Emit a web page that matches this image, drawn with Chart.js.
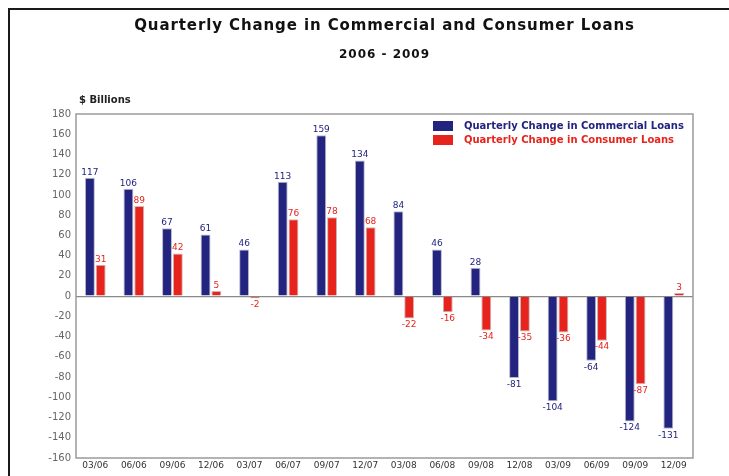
<!DOCTYPE html>
<html>
<head>
<meta charset="utf-8">
<script src="https://cdn.jsdelivr.net/npm/chart.js@4"></script>
<style>
  html, body { margin: 0; padding: 0; background: #fff; }
  #wrap { position: relative; width: 729px; height: 476px; overflow: hidden; }
  #frame {
    position: absolute; left: 8px; top: 8px; width: 760px; height: 500px;
    border-left: 2px solid #1a1a1a; border-top: 2px solid #1a1a1a;
    pointer-events: none;
  }
  canvas { position: absolute; left: 0; top: 0; }
</style>
</head>
<body>
<div id="wrap">
  <canvas id="grafica" width="729" height="476"></canvas>
  <div id="frame"></div>
</div>
<script>
const trimestres = [
  "03/06", "06/06", "09/06", "12/06", "03/07", "06/07", "09/07", "12/07",
  "03/08", "06/08", "09/08", "12/08", "03/09", "06/09", "09/09", "12/09"
];

const comerciales = [117, 106, 67, 61, 46, 113, 159, 134, 84, 46, 28, -81, -104, -64, -124, -131];
const consumo = [31, 89, 42, 5, -2, 76, 78, 68, -22, -16, -34, -35, -36, -44, -87, 3];

const nombres = [
  "Quarterly Change in Commercial Loans",
  "Quarterly Change in Consumer Loans"
];

const titulo = "Quarterly Change in Commercial and Consumer Loans";
const subtitulo = "2006 - 2009";
const unidades = "$ Billions";

const azul = "#23247f";
const rojo = "#e6241d";
const fuente = "'DejaVu Sans', sans-serif";

// value over (or under) each bar, in the bar's colour
const etiquetas = {
  id: "etiquetas",
  afterDatasetsDraw(chart) {
    const ctx = chart.ctx;
    ctx.save();
    ctx.font = "9px " + fuente;
    ctx.textAlign = "center";
    chart.data.datasets.forEach((ds, i) => {
      chart.getDatasetMeta(i).data.forEach((bar, j) => {
        const v = ds.data[j];
        ctx.fillStyle = ds.backgroundColor;
        if (v >= 0) {
          ctx.textBaseline = "bottom";
          ctx.fillText(v, bar.x, bar.y - 1);
        } else {
          ctx.textBaseline = "top";
          ctx.fillText(v, bar.x, bar.y + 2);
        }
      });
    });
    ctx.restore();
  }
};

// titles, box round the plot, "$ Billions" and the legend inside the plot
const marco = {
  id: "marco",
  beforeDatasetsDraw(chart) {
    const { ctx, chartArea: a } = chart;
    ctx.save();
    ctx.strokeStyle = "#9a9a9a";
    ctx.lineWidth = 1.5;
    ctx.strokeRect(a.left, a.top, a.right - a.left, a.bottom - a.top);
    ctx.restore();
  },
  afterDraw(chart) {
    const { ctx, chartArea: a } = chart;
    const centro = (a.left + a.right) / 2;
    ctx.save();
    ctx.fillStyle = "#111";
    ctx.textAlign = "center";
    ctx.textBaseline = "middle";
    ctx.letterSpacing = "0.9px";
    ctx.font = "bold 15px " + fuente;
    ctx.fillText(titulo, centro, 26);
    ctx.letterSpacing = "1px";
    ctx.font = "bold 12px " + fuente;
    ctx.fillText(subtitulo, centro, 55);
    ctx.letterSpacing = "0px";

    ctx.font = "bold 10px " + fuente;
    ctx.fillStyle = "#222";
    ctx.textAlign = "left";
    ctx.fillText(unidades, a.left + 3, a.top - 14);

    const x0 = a.right - 260;
    ctx.font = "bold 10px " + fuente;
    chart.data.datasets.forEach((ds, i) => {
      const y = a.top + 12 + i * 14;
      ctx.fillStyle = ds.backgroundColor;
      ctx.fillRect(x0, y - 5, 20, 10);
      ctx.fillText(ds.label, x0 + 31, y);
    });
    ctx.restore();
  }
};

const config = {
  type: "bar",
  data: {
    labels: trimestres,
    datasets: [
      {
        label: nombres[0],
        data: comerciales,
        backgroundColor: azul,
        borderColor: "#b9b9c9",
        borderWidth: 1,
        categoryPercentage: 0.56,
        barPercentage: 0.92
      },
      {
        label: nombres[1],
        data: consumo,
        backgroundColor: rojo,
        borderColor: "#c9b9b9",
        borderWidth: 1,
        categoryPercentage: 0.56,
        barPercentage: 0.92
      }
    ]
  },
  options: {
    responsive: false,
    animation: false,
    layout: { padding: { left: 0, right: 36, top: 114, bottom: 0 } },
    plugins: {
      legend: { display: false },
      tooltip: { enabled: false },
      title: { display: false }
    },
    scales: {
      x: {
        grid: { display: false, drawTicks: false },
        border: { display: false },
        ticks: {
          color: "#333",
          font: { family: fuente, size: 9 },
          autoSkip: false,
          maxRotation: 0,
          padding: 2
        },
        afterFit: (s) => { s.height = 18; }
      },
      y: {
        min: -160,
        max: 180,
        grid: {
          drawTicks: false,
          color: (c) => (c.tick && c.tick.value === 0 ? "#8a8a8a" : "transparent"),
          lineWidth: 1.2
        },
        border: { display: false },
        ticks: {
          stepSize: 20,
          color: "#666",
          font: { family: fuente, size: 10 },
          padding: 5
        },
        afterFit: (s) => { s.width = 76; }
      }
    }
  },
  plugins: [marco, etiquetas]
};

const chartDOM = document.getElementById("grafica");
const myGraph = new Chart(chartDOM, config);
</script>
</body>
</html>
